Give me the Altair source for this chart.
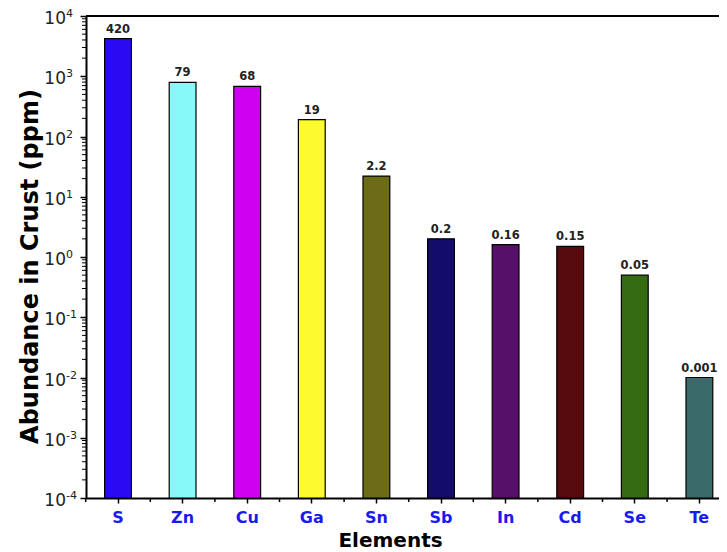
import altair as alt
import pandas as pd

elements = ["S", "Zn", "Cu", "Ga", "Sn", "Sb", "In", "Cd", "Se", "Te"]
bar_values = [4200, 790, 680, 190, 22, 2.0, 1.6, 1.5, 0.5, 0.01]
bar_labels = ["420", "79", "68", "19", "2.2", "0.2", "0.16", "0.15", "0.05", "0.001"]
bar_colors = ["#2a0af2", "#88f9f9", "#cf00f2", "#fbfb2e", "#6b6b18", "#140c6a",
              "#56106a", "#560a0e", "#356b12", "#3b6a6a"]

y_tick_values = [1e-4, 1e-3, 1e-2, 1e-1, 1e0, 1e1, 1e2, 1e3, 1e4]
y_tick_exponents = ["-4", "-3", "-2", "-1", "0", "1", "2", "3", "4"]
y_minor_ticks = [m * 10.0 ** k for k in range(-4, 4) for m in range(2, 10)]
axis_min = 1e-4

W, H = 633, 482
FONT = "DejaVu Sans"

df = pd.DataFrame({"el": elements, "v": bar_values, "lab": bar_labels,
                   "base": [axis_min] * len(elements)})
ticks_df = pd.DataFrame({"v": y_tick_values, "e": y_tick_exponents})
minor_df = pd.DataFrame({"v": y_minor_ticks})

xscale = alt.Scale(domain=elements, paddingInner=0.585, paddingOuter=0.192, align=0.75)
yscale = alt.Scale(type="log", domain=[1e-4, 1e4])

x_enc = alt.X("el:N", scale=xscale, sort=elements,
              axis=alt.Axis(title="Elements", labelAngle=0, labelFont=FONT,
                            labelFontSize=16, labelFontWeight="bold", labelColor="#1a1af0",
                            labelPadding=6, tickSize=5, tickWidth=1.5, tickColor="black",
                            domainColor="black", domainWidth=2, titleFont=FONT,
                            titleFontSize=20, titleFontWeight="bold", titleColor="black",
                            titleX=304, titleY=48, titleBaseline="alphabetic"))

bars = alt.Chart(df).mark_bar(stroke="black", strokeWidth=1.2).encode(
    x=x_enc,
    y=alt.Y("v:Q", scale=yscale,
            axis=alt.Axis(values=y_tick_values, labels=False, tickSize=6, tickWidth=1.5,
                          tickColor="black", domainColor="black", domainWidth=2,
                          grid=False, title="Abundance in Crust (ppm)", titleFont=FONT,
                          titleFontSize=24, titleFontWeight="bold", titleColor="black",
                          titlePadding=37, titleY=250)),
    y2="base:Q",
    color=alt.Color("el:N", scale=alt.Scale(domain=elements, range=bar_colors), legend=None),
)

bar_text = alt.Chart(df).mark_text(baseline="bottom", dy=-4, font=FONT, fontSize=11.5,
                                   fontWeight="bold", color="#222222").encode(
    x=alt.X("el:N", scale=xscale, sort=elements),
    y=alt.Y("v:Q", scale=yscale),
    text="lab:N",
)

ten_text = alt.Chart(ticks_df).mark_text(align="right", baseline="middle", dy=3, font=FONT,
                                         fontSize=17, color="#222222").encode(
    x=alt.value(-20), y=alt.Y("v:Q", scale=yscale), text=alt.value("10"))

exp_text = alt.Chart(ticks_df).mark_text(align="left", baseline="middle", dy=-2, font=FONT,
                                         fontSize=11, color="#222222").encode(
    x=alt.value(-20), y=alt.Y("v:Q", scale=yscale), text="e:N")

y_minor = alt.Chart(minor_df).mark_rule(color="black", strokeWidth=1).encode(
    y=alt.Y("v:Q", scale=yscale), x=alt.value(-4), x2=alt.value(0))

x_minor = alt.Chart(df).mark_rule(color="black", strokeWidth=1.5, xOffset=-32.3).encode(
    x=alt.X("el:N", scale=xscale, sort=elements), y=alt.value(H), y2=alt.value(H + 4))

top_border = alt.Chart(df).mark_rule(color="black", strokeWidth=2).encode(
    y=alt.value(0), x=alt.value(0), x2=alt.value(W))

chart = alt.layer(bars, bar_text, ten_text, exp_text, y_minor, x_minor, top_border).properties(
    width=W, height=H,
    autosize=alt.AutoSizeParams(type="none"),
    padding={"left": 78, "top": 8, "right": 0, "bottom": 54},
).configure_view(stroke=None).configure(background="white")

chart.save("out.html", embed_options={"renderer": "svg", "actions": False})
